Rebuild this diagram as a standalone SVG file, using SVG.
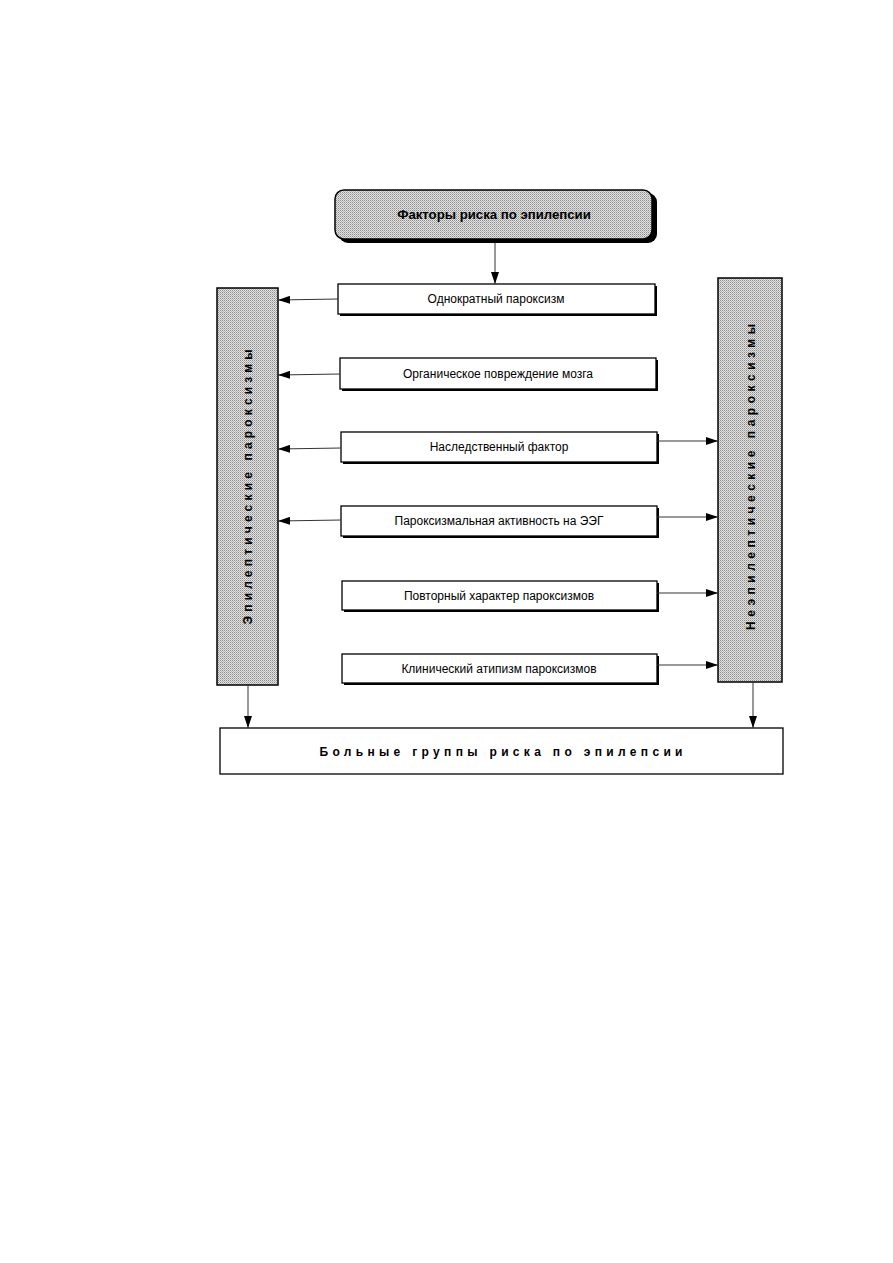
<svg xmlns="http://www.w3.org/2000/svg" width="893" height="1263" viewBox="0 0 893 1263">
<defs>
<pattern id="dots" width="2" height="2" patternUnits="userSpaceOnUse">
<rect width="2" height="2" fill="#e2e2e2"/>
<rect width="1" height="1" fill="#8c8c8c"/>
<rect x="1" y="1" width="1" height="1" fill="#b4b4b4"/>
</pattern>
<marker id="ah" markerWidth="12" markerHeight="8" refX="12" refY="4" orient="auto" markerUnits="userSpaceOnUse">
<path d="M0,0 L12,4 L0,8 Z" fill="#000"/>
</marker>
</defs>
<style>
.box{fill:#fff;stroke:#000;stroke-width:1.3}
.sh{fill:#000}
.gray{fill:url(#dots);stroke:#000;stroke-width:1.5}
.lbl{font-family:"Liberation Sans",Arial,sans-serif;font-size:12px;fill:#000;text-anchor:middle}
.bold{font-family:"Liberation Sans",Arial,sans-serif;font-weight:bold;fill:#000;text-anchor:middle}
.con{stroke:#333;stroke-width:1;fill:none;marker-end:url(#ah)}
</style>
<rect width="893" height="1263" fill="#fff"/>

<g id="title">
<rect x="339" y="193" width="318" height="50" rx="9" class="sh"/>
<rect x="335" y="190" width="317" height="49" rx="9" class="gray"/>
<text x="494" y="219" class="bold" font-size="13.2">Факторы риска по эпилепсии</text>
</g>

<g id="n1">
<rect x="340" y="286" width="317" height="30" class="sh"/>
<rect x="338" y="284" width="317" height="30" class="box"/>
<text x="496" y="303" class="lbl">Однократный пароксизм</text>
</g>
<g id="n2">
<rect x="342" y="360" width="316" height="31" class="sh"/>
<rect x="340" y="358" width="316" height="31" class="box"/>
<text x="498" y="378" class="lbl">Органическое повреждение мозга</text>
</g>
<g id="n3">
<rect x="343" y="434" width="316" height="30" class="sh"/>
<rect x="341" y="432" width="316" height="30" class="box"/>
<text x="499" y="451" class="lbl">Наследственный фактор</text>
</g>
<g id="n4">
<rect x="343" y="508" width="316" height="30" class="sh"/>
<rect x="341" y="506" width="316" height="30" class="box"/>
<text x="499" y="525" class="lbl">Пароксизмальная активность на ЭЭГ</text>
</g>
<g id="n5">
<rect x="344" y="583" width="315" height="29" class="sh"/>
<rect x="342" y="581" width="315" height="29" class="box"/>
<text x="499" y="600" class="lbl">Повторный характер пароксизмов</text>
</g>
<g id="n6">
<rect x="344" y="656" width="315" height="29" class="sh"/>
<rect x="342" y="654" width="315" height="29" class="box"/>
<text x="499" y="673" class="lbl">Клинический атипизм пароксизмов</text>
</g>

<g id="epi">
<rect x="217" y="288" width="61" height="397" class="gray"/>
<text transform="translate(251.5,487) rotate(-90)" class="bold" font-size="12" textLength="275" lengthAdjust="spacing">Эпилептические пароксизмы</text>
</g>
<g id="nonepi">
<rect x="718" y="278" width="64" height="404" class="gray"/>
<text transform="translate(754.5,477) rotate(-90)" class="bold" font-size="12" textLength="306" lengthAdjust="spacing">Неэпилептические пароксизмы</text>
</g>

<g id="risk">
<rect x="220" y="728" width="563" height="46" class="box"/>
<text x="501" y="756" class="bold" font-size="12" textLength="363" lengthAdjust="spacing">Больные группы риска по эпилепсии</text>
</g>

<g id="connectors">
<line x1="495" y1="243" x2="495" y2="284" class="con"/>
<line x1="338" y1="299" x2="278" y2="300" class="con"/>
<line x1="340" y1="374" x2="278" y2="375" class="con"/>
<line x1="341" y1="448" x2="278" y2="449" class="con"/>
<line x1="341" y1="520" x2="278" y2="521" class="con"/>
<line x1="657" y1="441" x2="718" y2="441" class="con"/>
<line x1="657" y1="517" x2="718" y2="517" class="con"/>
<line x1="657" y1="593" x2="718" y2="593" class="con"/>
<line x1="657" y1="665" x2="718" y2="665" class="con"/>
<line x1="248" y1="685" x2="248" y2="728" class="con"/>
<line x1="753" y1="682" x2="753" y2="728" class="con"/>
</g>
</svg>
